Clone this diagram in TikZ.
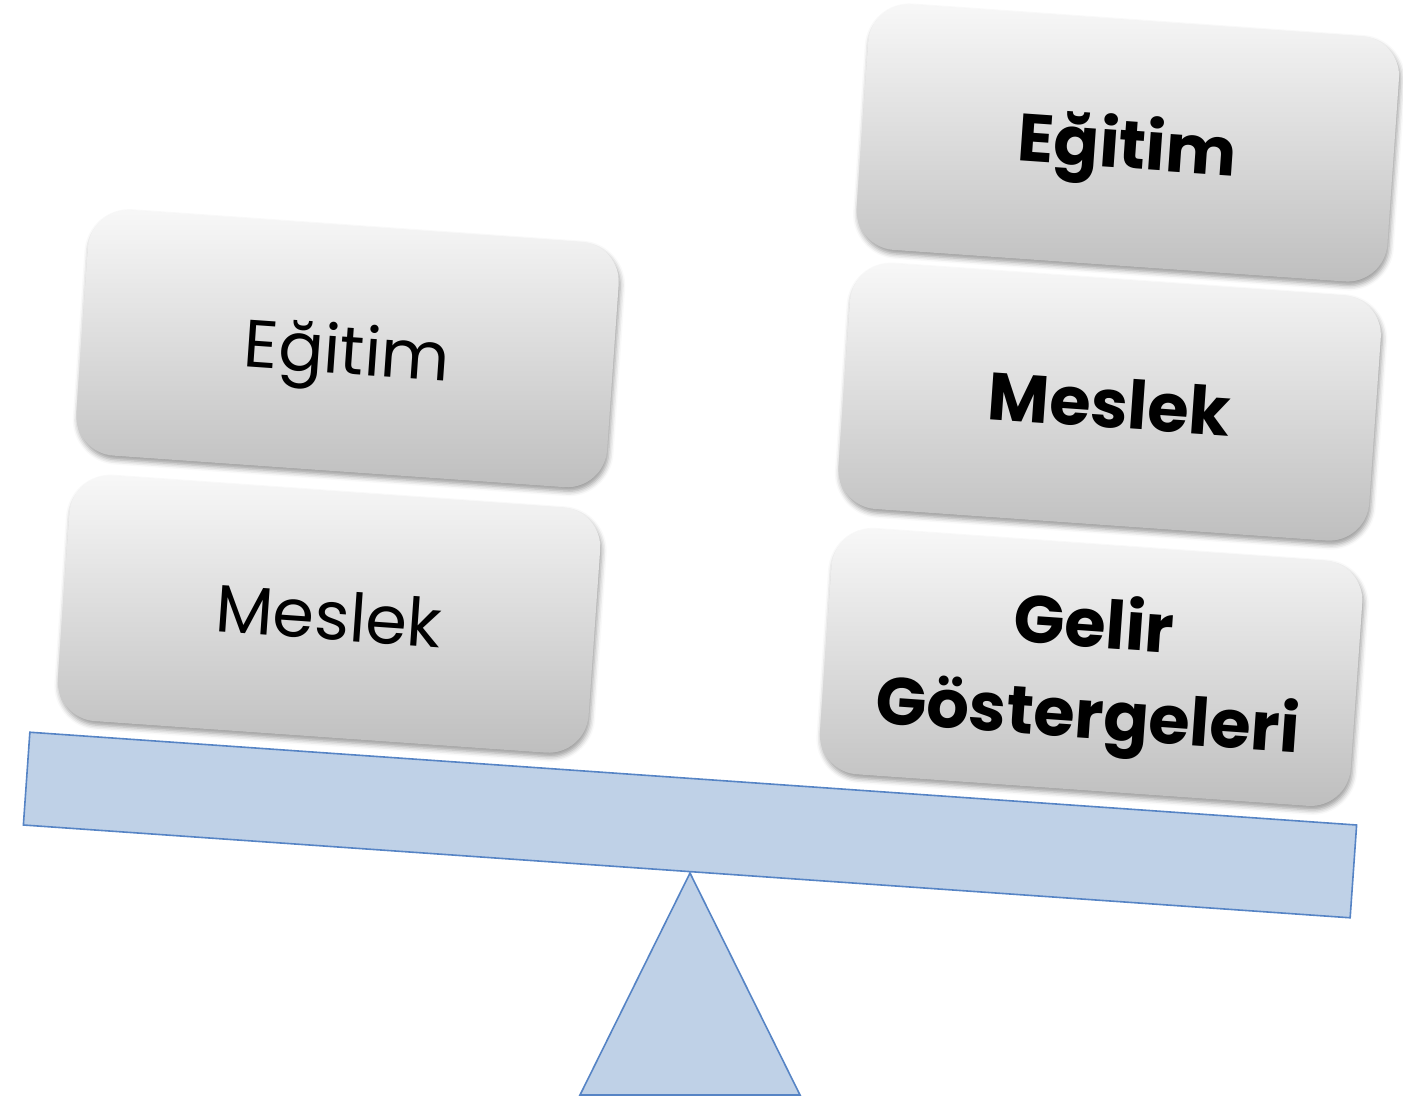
\documentclass[tikz,border=0pt]{standalone}
\usepackage{fontspec}
\setmainfont{Poppins}
\usetikzlibrary{shadows.blur}
\definecolor{beamfill}{RGB}{191,209,231}
\definecolor{beamline}{RGB}{86,132,197}
\definecolor{boxtop}{RGB}{248,248,248}
\definecolor{boxbot}{RGB}{190,190,190}
\begin{document}
\begin{tikzpicture}[x=1pt,y=-1pt,
  card/.style={rectangle, rounded corners=40pt, minimum width=532pt, minimum height=246pt,
    top color=boxtop, bottom color=boxbot, draw=none, rotate=-4, inner sep=0pt, align=center,
    text height=51pt, text depth=0pt,
    blur shadow={shadow xshift=1.5pt, shadow yshift=-4pt, shadow blur radius=5pt, shadow opacity=40}},
  twoline/.style={text height=0pt, text depth=40pt},
  lighttext/.style={font=\fontsize{67}{91}\selectfont},
  boldtext/.style={font=\fontsize{67}{91}\selectfont\bfseries},
  seesaw/.style={fill=beamfill, draw=beamline, line width=1.6pt}]
\useasboundingbox (0,0) rectangle (1403,1098);
% beam and pivot
\node[seesaw, rectangle, minimum width=1330pt, minimum height=93pt, rotate=-4, inner sep=0pt] (beam) at (690,825) {};
\coordinate (apex) at (690,873);
\coordinate (bl) at (580,1095);
\coordinate (br) at (800,1095);
\draw[seesaw, line join=miter] (apex) -- (br) -- (bl) -- cycle;
% left column
\node[card, lighttext] (lEgitim) at (347.5,348.7) {Eğitim};
\node[card, lighttext] (lMeslek) at (329.0,614.2) {Meslek};
% right column
\node[card, boldtext] (rEgitim) at (1127.8,143.0) {Eğitim};
\node[card, boldtext] (rMeslek) at (1109.6,402.1) {Meslek};
\node[card, boldtext, twoline] (rGelir) at (1091.1,667.4) {\begin{tabular}[t]{@{}c@{}}Gelir\\Göstergeleri\end{tabular}};
\end{tikzpicture}
\end{document}
